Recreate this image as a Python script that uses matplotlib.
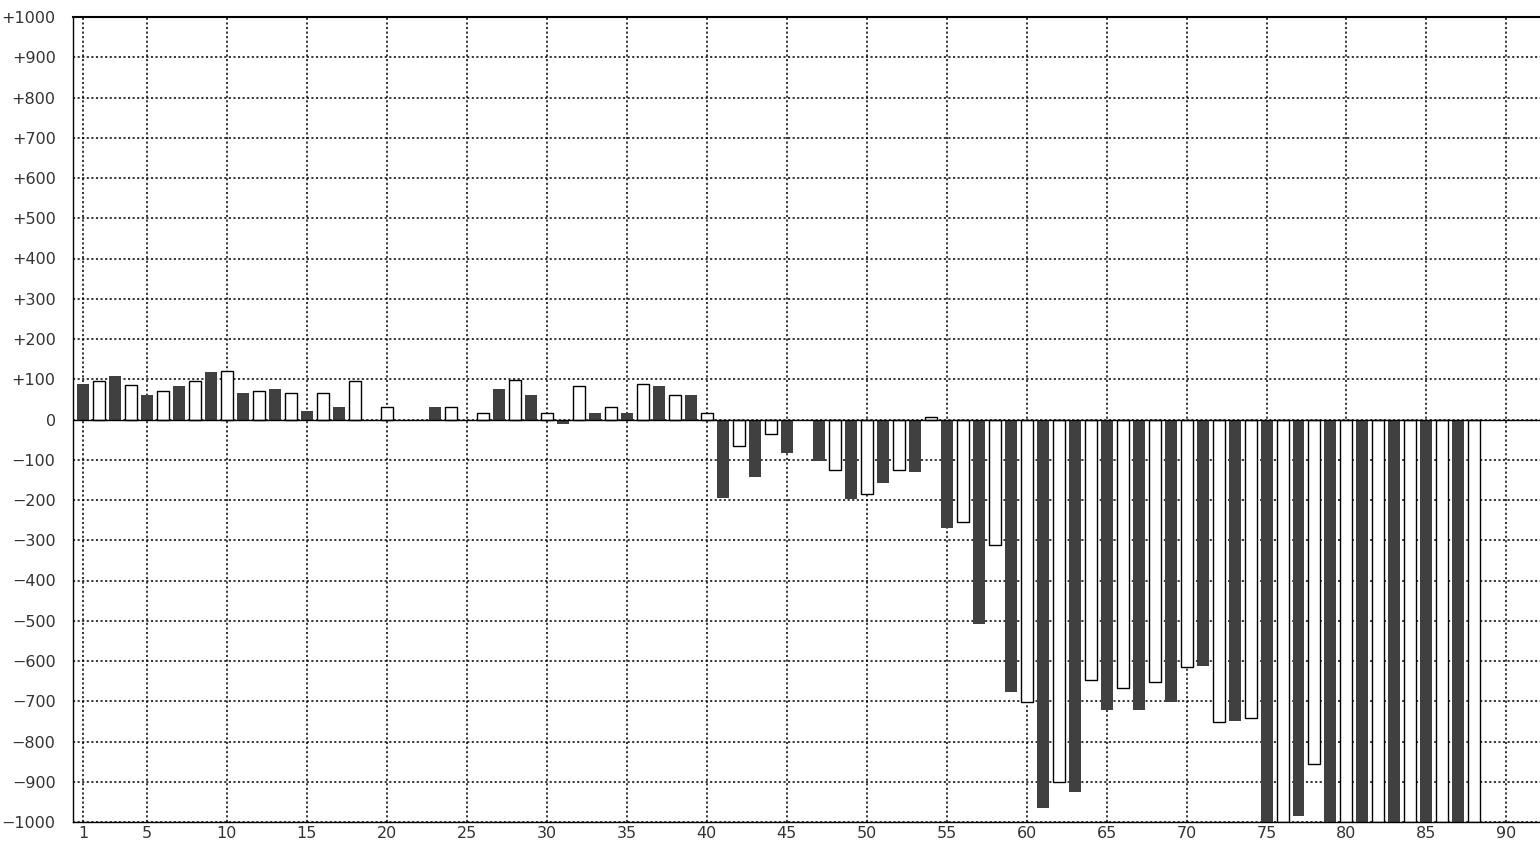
import numpy as np
import matplotlib
matplotlib.use('Agg')
from matplotlib import pyplot as plt

# values, one per position 1..88 (0 = no bar)
positions = list(range(1, 89))
values = [87, 96, 107, 85, 62, 70, 82, 95, 117, 120,
          67, 70, 77, 65, 22, 65, 32, 95, 0, 30,
          0, 0, 32, 30, 0, 17, 77, 97, 62, 17,
          -12, 82, 17, 30, 17, 87, 82, 62, 62, 17,
          -195, -65, -142, -36, -82, 0, -102, -125, -197, -185,
          -157, -125, -131, 5, -270, -255, -508, -313, -677, -702,
          -966, -901, -926, -648, -722, -667, -722, -653, -702, -616,
          -613, -752, -748, -741, -1000, -1000, -984, -855, -1000, -1000,
          -1000, -1000, -1000, -1000, -1000, -1000, -1000, -1000]
x_ticks = [1, 5, 10, 15, 20, 25, 30, 35, 40, 45, 50, 55, 60, 65, 70, 75, 80, 85, 90]
y_ticks = list(range(-1000, 1001, 100))

x = np.array(positions)
v = np.array(values, dtype=float)
has = v != 0
odd = (x % 2 == 1) & has
even = (x % 2 == 0) & has

fig = plt.figure(figsize=(15.4, 8.44), dpi=100)
ax = fig.add_axes([73 / 1540, 22 / 844, 1 - 73 / 1540, (822 - 17) / 844])

ax.bar(x[odd], v[odd], width=0.75, color='#404040', linewidth=0, zorder=2)
ax.bar(x[even], v[even], width=0.75, color='white', edgecolor='black', linewidth=1.0, zorder=2)
ax.axhline(0, color='black', linewidth=1.0, zorder=3)

ax.set_xlim(0.375, 92.1)
ax.set_ylim(-1000, 1000)
ax.set_xticks(x_ticks)
ax.set_yticks(y_ticks)
ax.set_yticklabels(['+%d' % t if t > 0 else ('0' if t == 0 else '\u2212%d' % -t) for t in y_ticks])
ax.tick_params(length=0, labelsize=11.5, colors='#333333')
ax.tick_params(axis='y', pad=12.5)
ax.tick_params(axis='x', pad=3)
ax.grid(True, color='black', linestyle=(0, (1.4, 1.6)), linewidth=1.1)
ax.set_axisbelow(True)
for s in ax.spines.values():
    s.set_linewidth(1.0)
ax.spines['top'].set_linewidth(1.5)
ax.spines['right'].set_visible(False)

fig.savefig('out.png', dpi=100)
